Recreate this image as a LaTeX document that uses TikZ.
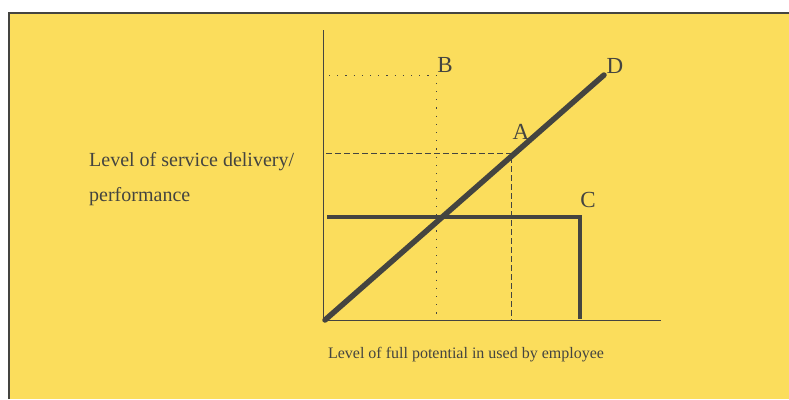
\documentclass[tikz,border=0pt]{standalone}
\usepackage{fontspec}
\setmainfont{Liberation Serif}
\usetikzlibrary{positioning}
\definecolor{paper}{RGB}{251,221,92}
\definecolor{ink}{RGB}{68,68,64}

\begin{document}
\begin{tikzpicture}[
  x=1pt, y=-1pt,
  axis/.style={draw=ink, line width=0.8pt},
  thick line/.style={draw=ink, line width=5.5pt},
  flat line/.style={draw=ink, line width=3.2pt},
  guide dot/.style={draw=ink, line width=1pt, dash pattern=on 1.2pt off 7pt},
  guide dash/.style={draw=ink, line width=0.7pt, dash pattern=on 6pt off 3pt},
  letter/.style={font=\fontsize{23}{26}\selectfont, text=ink, inner sep=0pt},
  lbl/.style={font=\fontsize{20}{24}\selectfont, text=ink, inner sep=0pt, anchor=west}
]
\useasboundingbox (0,0) rectangle (789,399);
\fill[white] (0,0) rectangle (789,399);
\fill[paper] (9,13) rectangle (789,399);
\draw[ink, line width=1.2pt] (9,399) -- (9,13) -- (789,13);

% axes
\coordinate (o) at (325,320);
\coordinate (ytop) at (323,30);
\coordinate (xend) at (661,320);
\draw[axis] (ytop) -- (323,320) -- (xend);

% guide lines
\coordinate (b) at (436,75);
\coordinate (a) at (511,154);
\draw[guide dot] (329,75) -- (b) -- (436,320);
\draw[guide dash] (326,153) -- (a |- 0,153) -- (511,320);

% performance lines
\coordinate (d) at (604,75);
\coordinate (c) at (580,217);
\draw[thick line, line cap=round] (o) -- (d);
\draw[flat line] (327,217) -- (c) -- (580,319);

% letters
\node[letter] (lb) at (445,65) {B};
\node[letter] (la) at (521,132) {A};
\node[letter] (lc) at (588,200) {C};
\node[letter] (ld) at (615,66) {D};

% axis labels
\node[lbl] (ylab1) at (89,162) {Level of service delivery/};
\node[lbl] (ylab2) at (89,197) {performance};
\node[font=\fontsize{16}{19}\selectfont, text=ink, inner sep=0pt] (xlab) at (466,355) {Level of full potential in used by employee};
\end{tikzpicture}
\end{document}
